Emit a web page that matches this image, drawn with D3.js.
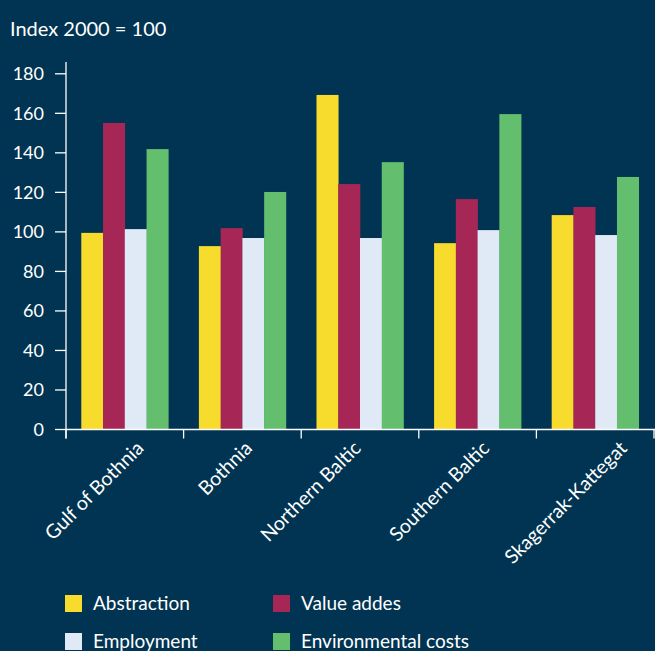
<!DOCTYPE html>
<html>
<head>
<meta charset="utf-8">
<script src="https://cdn.jsdelivr.net/npm/d3@7"></script>
<style>
  html, body { margin: 0; padding: 0; background: #013452; }
  svg { display: block; }
</style>
</head>
<body>
<div id="chart"></div>
<script>
(function () {
  "use strict";

  var FONT = "Lato, 'Open Sans', sans-serif";
  var BG = "#013452";

  // data
  var regions = ["Gulf of Bothnia", "Bothnia", "Northern Baltic", "Southern Baltic", "Skagerrak-Kattegat"];
  var seriesNames = ["Abstraction", "Value addes", "Employment", "Environmental costs"];
  var seriesColors = ["#f7dc2e", "#a62756", "#e0eaf6", "#63be6e"];
  var abstraction = [99.5, 92.8, 169.3, 94.3, 108.5];
  var valueAdded = [155.1, 101.9, 124.2, 116.6, 112.6];
  var employment = [101.4, 96.9, 96.9, 100.9, 98.4];
  var envCosts = [141.9, 120.2, 135.3, 159.6, 127.8];
  var yTicks = [0, 20, 40, 60, 80, 100, 120, 140, 160, 180];

  var series = [abstraction, valueAdded, employment, envCosts];

  // hand-placed nudges of the rotated category labels (as in the original)
  var labelShift = [20, 11, 2, 13, 33];

  var W = 655, H = 651;
  var X0 = 66, X1 = 654, Y0 = 429.5, YTOP = 73.8;

  var svg = d3.select("#chart").append("svg")
    .attr("width", W).attr("height", H)
    .style("background", BG);

  // Title
  svg.append("text").attr("x", 10).attr("y", 36)
    .attr("fill", "#fff").attr("font-size", "20px")
    .attr("font-family", FONT).text("Index 2000 = 100");

  var x = d3.scaleBand().domain(regions).range([X0, X1])
    .paddingInner(0.26).paddingOuter(0.13);
  var xs = d3.scaleBand().domain(d3.range(seriesNames.length))
    .range([0, x.bandwidth()]);
  var y = d3.scaleLinear().domain([0, 180]).range([Y0, YTOP]);

  // Bars
  regions.forEach(function (r, i) {
    series.forEach(function (vals, s) {
      svg.append("rect")
        .attr("x", x(r) + xs(s))
        .attr("y", y(vals[i]))
        .attr("width", xs.bandwidth() + 0.3)
        .attr("height", Y0 - y(vals[i]))
        .attr("fill", seriesColors[s]);
    });
  });

  // Y axis
  svg.append("line").attr("x1", X0).attr("x2", X0)
    .attr("y1", 62).attr("y2", Y0 + 9)
    .attr("stroke", "#fff").attr("stroke-width", 1.3);
  yTicks.forEach(function (v) {
    svg.append("line").attr("x1", X0 - 11).attr("x2", X0)
      .attr("y1", y(v)).attr("y2", y(v))
      .attr("stroke", "#fff").attr("stroke-width", 1.3);
    svg.append("text").attr("x", X0 - 22).attr("y", y(v) + 6.5)
      .attr("text-anchor", "end")
      .attr("fill", "#fff").attr("font-size", "18px")
      .attr("font-family", FONT).text(v);
  });

  // X axis
  svg.append("line").attr("x1", X0).attr("x2", W)
    .attr("y1", Y0).attr("y2", Y0)
    .attr("stroke", "#fff").attr("stroke-width", 1.3);
  var step = x.step();
  d3.range(regions.length + 1).forEach(function (k) {
    var tx = X0 + k * step;
    if (k === regions.length) tx = Math.min(tx, W - 1);
    svg.append("line").attr("x1", tx).attr("x2", tx)
      .attr("y1", Y0).attr("y2", Y0 + 9)
      .attr("stroke", "#fff").attr("stroke-width", 1.3);
  });

  regions.forEach(function (r, i) {
    var cx = x(r) + x.bandwidth() / 2 + labelShift[i];
    svg.append("text")
      .attr("transform", "translate(" + cx + "," + (Y0 + 20) + ") rotate(-45)")
      .attr("text-anchor", "end")
      .attr("fill", "#fff").attr("font-size", "19.5px")
      .attr("font-family", FONT).text(r);
  });

  // Legend
  var legPos = [[65, 595], [273, 595], [65, 633], [273, 633]];
  seriesNames.forEach(function (name, s) {
    var g = svg.append("g")
      .attr("transform", "translate(" + legPos[s][0] + "," + legPos[s][1] + ")");
    g.append("rect").attr("width", 17).attr("height", 17)
      .attr("fill", seriesColors[s]);
    g.append("text").attr("x", 28).attr("y", 15)
      .attr("fill", "#fff").attr("font-size", "19px")
      .attr("font-family", FONT).text(name);
  });
})();
</script>
</body>
</html>
